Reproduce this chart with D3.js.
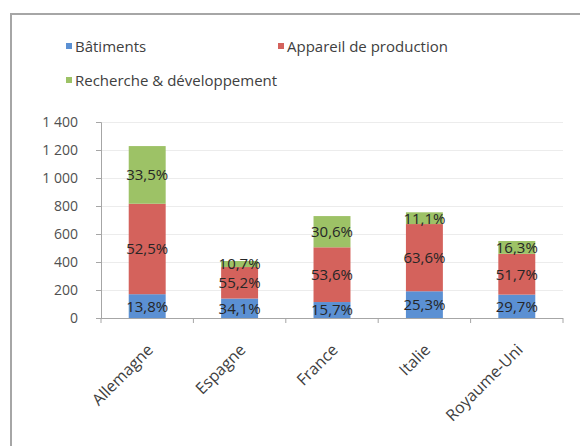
<!DOCTYPE html>
<html><head><meta charset="utf-8">
<script src="https://cdn.jsdelivr.net/npm/d3@7"></script>
<style>
html,body{margin:0;padding:0;background:#fff;}
svg{display:block;font-family:"Open Sans",sans-serif;}
</style></head>
<body><svg id="c" width="580" height="446"></svg>
<script>
const categories = ["Allemagne","Espagne","France","Italie","Royaume-Uni"];
const seriesNames = ["Bâtiments","Appareil de production","Recherche & développement"];
const batiments = [170, 139, 114, 191, 167];
const appareil = [646, 225, 391, 480, 291];
const recherche = [412, 43, 223, 84, 92];
const pctBatiments = ["13,8%","34,1%","15,7%","25,3%","29,7%"];
const pctAppareil = ["52,5%","55,2%","53,6%","63,6%","51,7%"];
const pctRecherche = ["33,5%","10,7%","30,6%","11,1%","16,3%"];
const yTicks = [0,200,400,600,800,1000,1200,1400];
const colors = ["#5b90d3","#d4625c","#9dc266"];

const svg = d3.select("#c");
svg.append("rect").attr("x",11).attr("y",14).attr("width",600).attr("height",460)
  .attr("fill","none").attr("stroke","#a6a6a6").attr("stroke-width",2);

const x = d3.scaleBand().domain(categories).range([101,563]).paddingInner(0.6).paddingOuter(0.3);
const y = d3.scaleLinear().domain([0,1400]).range([318,122]);

svg.append("g").selectAll("line").data(yTicks.slice(1)).join("line")
  .attr("x1",101).attr("x2",563).attr("y1",d=>y(d)+0.5).attr("y2",d=>y(d)+0.5)
  .attr("stroke","#ececec").attr("stroke-width",1);

const fmt = d => d3.format(",")(d).replace(/,/g," ");
const yAxis = svg.append("g").attr("transform","translate(101,0)")
  .call(d3.axisLeft(y).tickValues(yTicks).tickFormat(fmt).tickSize(5).tickPadding(18));
yAxis.select(".domain").attr("stroke","#a6a6a6");
yAxis.selectAll(".tick line").attr("stroke","#a6a6a6");
yAxis.selectAll("text").attr("font-size",14).attr("fill","#505050").attr("font-family","Open Sans");

const keys = ["b","a","r"];
const rows = categories.map((c,i)=>({cat:c,b:batiments[i],a:appareil[i],r:recherche[i],
  pb:pctBatiments[i],pa:pctAppareil[i],pr:pctRecherche[i]}));
const stack = d3.stack().keys(keys)(rows);
const pkeys = {b:"pb",a:"pa",r:"pr"};

stack.forEach((layer,li)=>{
  const g = svg.append("g");
  g.selectAll("rect").data(layer).join("rect")
    .attr("x",d=>x(d.data.cat)).attr("width",x.bandwidth())
    .attr("y",d=>y(d[1])).attr("height",d=>y(d[0])-y(d[1]))
    .attr("fill",colors[li]);
  g.selectAll("text").data(layer).join("text")
    .attr("x",d=>x(d.data.cat)+x.bandwidth()/2)
    .attr("y",d=>(y(d[0])+y(d[1]))/2)
    .attr("dy","0.36em").attr("text-anchor","middle")
    .attr("font-size",15).attr("fill","#262626")
    .text(d=>d.data[pkeys[layer.key]]);
});

const xAxisG = svg.append("g").attr("transform","translate(0,318)");
xAxisG.append("line").attr("x1",101).attr("x2",563).attr("y1",0.5).attr("y2",0.5).attr("stroke","#a6a6a6");
const tickXs = d3.range(categories.length+1).map(i=>101 + i*(462/categories.length));
xAxisG.selectAll("line.t").data(tickXs).join("line").attr("class","t")
  .attr("x1",d=>d).attr("x2",d=>d).attr("y1",0).attr("y2",5).attr("stroke","#a6a6a6");
xAxisG.selectAll("text").data(categories).join("text")
  .attr("transform",d=>`translate(${x(d)+x.bandwidth()/2+3},${29}) rotate(-45)`)
  .attr("text-anchor","end").attr("font-size",16).attr("fill","#404040")
  .attr("dy","0.35em")
  .text(d=>d);

const legendItems = [
  {name:seriesNames[0], x:66, y:47, c:colors[0]},
  {name:seriesNames[1], x:278, y:47, c:colors[1]},
  {name:seriesNames[2], x:66, y:81, c:colors[2]}
];
const lg = svg.append("g");
legendItems.forEach(it=>{
  lg.append("rect").attr("x",it.x).attr("y",it.y-4).attr("width",6).attr("height",6).attr("fill",it.c);
  lg.append("text").attr("x",it.x+9).attr("y",it.y).attr("dy","0.35em")
    .attr("font-size",15).attr("fill","#404040").text(it.name);
});
</script></body></html>
